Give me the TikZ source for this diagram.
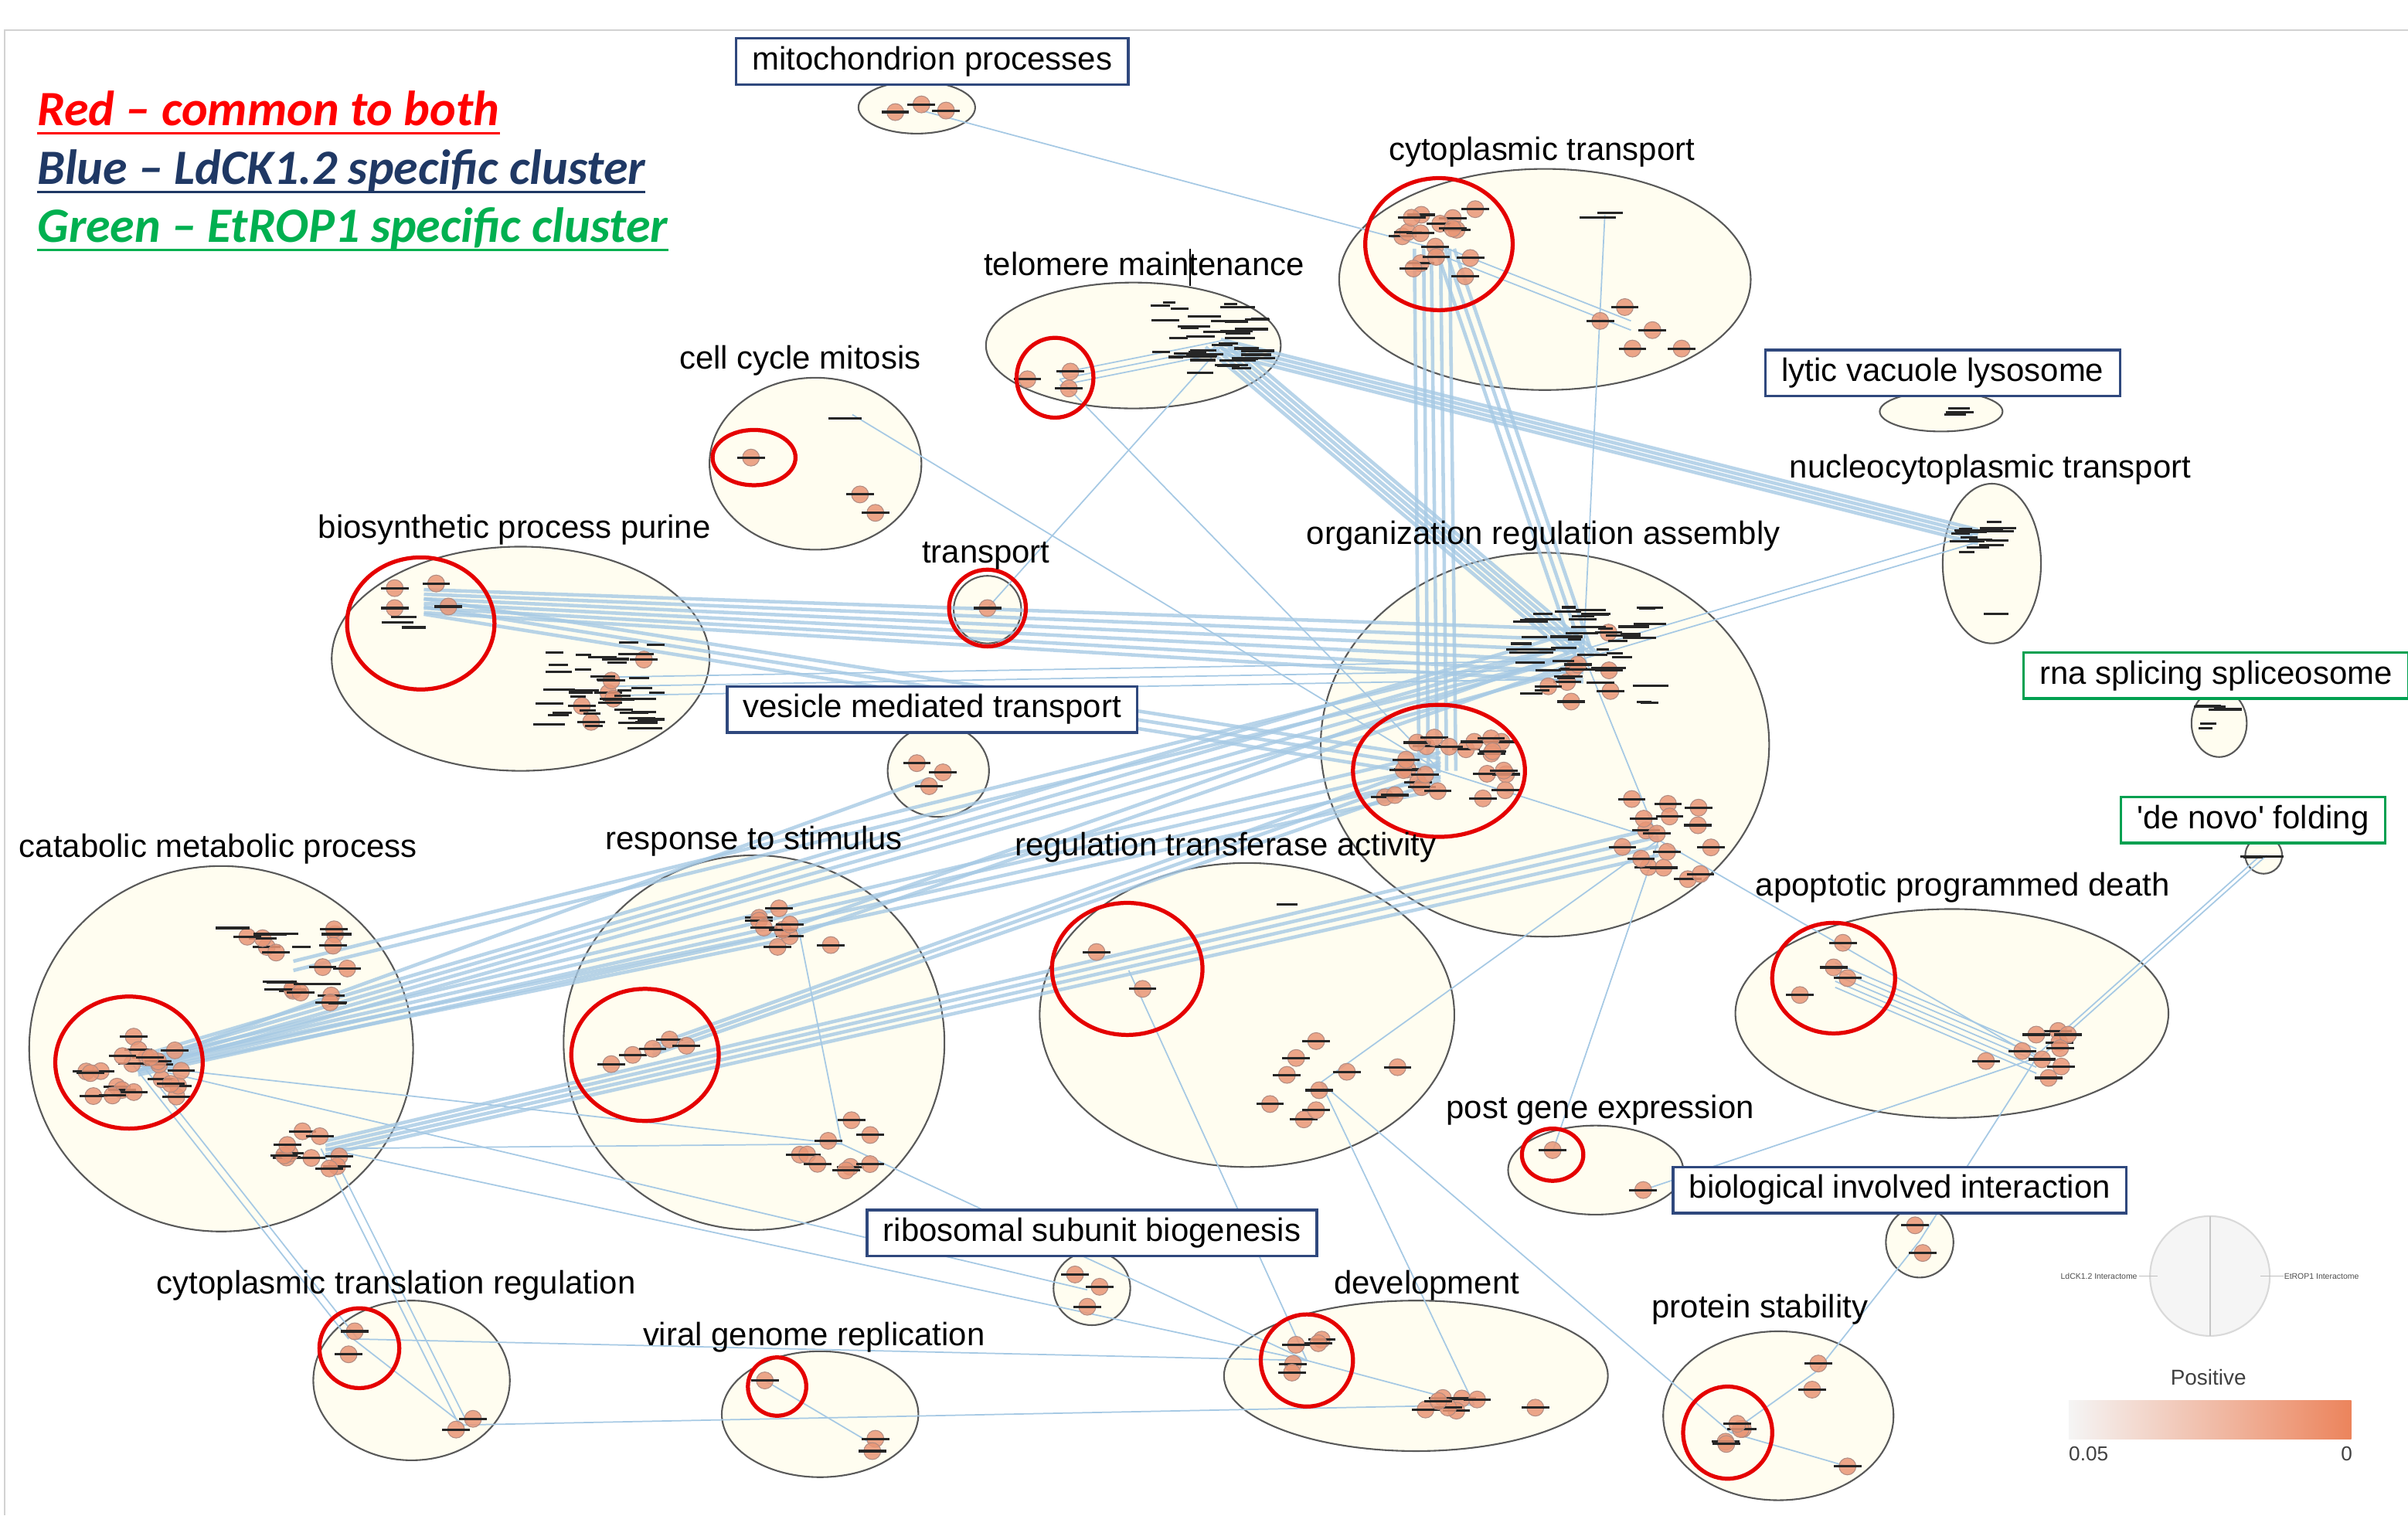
\documentclass[tikz,border=0pt]{standalone}
\usepackage{fontspec}
\setmainfont{Liberation Sans}
\newfontfamily\legendfont{Carlito}

\definecolor{edgeblue}{RGB}{166,201,228}
\definecolor{clusterfill}{RGB}{255,253,240}
\definecolor{genefill}{RGB}{233,150,118}
\definecolor{geneline}{RGB}{178,140,130}
\definecolor{tagblue}{RGB}{47,72,125}
\definecolor{taggreen}{RGB}{0,160,80}
\definecolor{lgred}{RGB}{255,0,0}
\definecolor{lgblue}{RGB}{31,56,100}
\definecolor{lggreen}{RGB}{0,176,80}
\definecolor{barhot}{RGB}{236,132,92}

% one gene node with its (unreadable) name
\newcommand\onegene[2]{%
  \filldraw[gene] (#1,#2) circle[radius=5.5];
  \draw[genetext] (#1-9,#2) -- (#1+9,#2);}
% scatter of gene nodes round a centre
\newcommand\genecloud[6]{%
  \pgfmathsetseed{#6}%
  \foreach \k in {1,...,#5}{%
    \pgfmathsetmacro\gx{#1+#3*rand}%
    \pgfmathsetmacro\gy{#2+#4*rand}%
    \filldraw[gene] (\gx,\gy) circle[radius=5.5];
    \draw[genetext] (\gx-9,\gy) -- (\gx+9,\gy);
  }}
% scatter of names only
\newcommand\namecloud[6]{%
  \pgfmathsetseed{#6}%
  \foreach \k in {1,...,#5}{%
    \pgfmathsetmacro\gx{#1+#3*rand}%
    \pgfmathsetmacro\gy{#2+#4*rand}%
    \pgfmathsetmacro\gw{4+8*rnd}%
    \draw[genetext] (\gx-\gw,\gy) -- (\gx+\gw,\gy);
  }}

\begin{document}
\begin{tikzpicture}[x=0.02cm, y=-0.02cm,
  cluster/.style={draw=black!65, fill=clusterfill, line width=0.6pt},
  common/.style={draw=red!90!black, line width=1.5pt},
  edge/.style={draw=edgeblue, line width=0.5pt},
  bundle/.style={draw=edgeblue, line width=1.3pt, opacity=0.8},
  gene/.style={fill=genefill, draw=geneline, line width=0.3pt, fill opacity=0.85},
  genetext/.style={draw=black!85, line width=0.9pt},
  term/.style={font=\fontsize{12}{14}\selectfont, text=black, inner sep=1pt},
  tag/.style={term, draw=tagblue, line width=1pt, fill=white, inner xsep=6pt, minimum height=0.6cm},
  etag/.style={tag, draw=taggreen},
  legend/.style={font=\legendfont\bfseries\itshape\fontsize{18.3}{21}\selectfont, anchor=base west, inner sep=0pt}]

\useasboundingbox (0,0) rectangle (1568,987);
\draw[gray!35, line width=0.6pt] (3,987) -- (3,19.5) -- (1568,19.5);

% legend
\node[legend, text=lgred] (lgRed) at (24,82) {Red – common to both};
\node[legend, text=lgblue] (lgBlue) at (24,120) {Blue – LdCK1.2 specific cluster};
\node[legend, text=lggreen] (lgGreen) at (24,158) {Green – EtROP1 specific cluster};
\draw[lgred, line width=0.95pt] ([yshift=-2.8pt]lgRed.base west) -- ([yshift=-2.8pt]lgRed.base east);
\draw[lgblue, line width=0.95pt] ([yshift=-2.8pt]lgBlue.base west) -- ([yshift=-2.8pt]lgBlue.base east);
\draw[lggreen, line width=0.95pt] ([yshift=-2.8pt]lgGreen.base west) -- ([yshift=-2.8pt]lgGreen.base east);

% clusters
\draw[cluster] (597,70) ellipse [x radius=38, y radius=17];
\draw[cluster] (1006,182) ellipse [x radius=134, y radius=72];
\draw[cluster] (738,225) ellipse [x radius=96, y radius=41];
\draw[cluster] (531,302) ellipse [x radius=69, y radius=56];
\draw[cluster] (1264,268) ellipse [x radius=40, y radius=13];
\draw[cluster] (1297,367) ellipse [x radius=32, y radius=52];
\draw[cluster] (339,429) ellipse [x radius=123, y radius=73];
\draw[cluster] (643,397) ellipse [x radius=22, y radius=22];
\draw[cluster] (1006,485) ellipse [x radius=146, y radius=125];
\draw[cluster] (611,502) ellipse [x radius=33, y radius=30];
\draw[cluster] (1445,471) ellipse [x radius=18, y radius=22];
\draw[cluster] (1474,557) ellipse [x radius=12, y radius=12];
\draw[cluster] (144,683) ellipse [x radius=125, y radius=119];
\draw[cluster] (491,679) ellipse [x radius=124, y radius=122];
\draw[cluster] (812,661) ellipse [x radius=135, y radius=99];
\draw[cluster] (1271,660) ellipse [x radius=141, y radius=68];
\draw[cluster] (1039,762) ellipse [x radius=57, y radius=29];
\draw[cluster] (1250,809) ellipse [x radius=22, y radius=23];
\draw[cluster] (711,839) ellipse [x radius=25, y radius=24];
\draw[cluster] (268,899) ellipse [x radius=64, y radius=52];
\draw[cluster] (534,921) ellipse [x radius=64, y radius=41];
\draw[cluster] (922,896) ellipse [x radius=125, y radius=49];
\draw[cluster] (1158,922) ellipse [x radius=75, y radius=55];

% hubs
\coordinate (mitoH) at (600,72);
\coordinate (ctR) at (935,162);
\coordinate (ctA) at (1045,140);
\coordinate (ctB) at (1062,212);
\coordinate (telR) at (690,247);
\coordinate (telT) at (795,226);
\coordinate (ccmA) at (555,270);
\coordinate (nucH) at (1288,350);
\coordinate (bioR) at (276,392);
\coordinate (bioL) at (395,447);
\coordinate (trnH) at (643,396);
\coordinate (orgU) at (1031,426);
\coordinate (orgR) at (938,502);
\coordinate (orgL) at (1080,547);
\coordinate (vmtH) at (605,507);
\coordinate (dnfH) at (1474,557);
\coordinate (catR) at (90,694);
\coordinate (catU) at (191,629);
\coordinate (catL) at (212,748);
\coordinate (rsR) at (425,684);
\coordinate (rsU) at (520,605);
\coordinate (rsL) at (548,745);
\coordinate (rtR) at (735,632);
\coordinate (rtL) at (860,705);
\coordinate (apoR) at (1195,635);
\coordinate (apoL) at (1326,689);
\coordinate (pgeR) at (1011,750);
\coordinate (pgeA) at (1070,775);
\coordinate (bioH) at (1250,808);
\coordinate (rsbH) at (708,840);
\coordinate (ctrR) at (230,872);
\coordinate (ctrL) at (302,928);
\coordinate (vgrR) at (498,899);
\coordinate (vgrL) at (569,941);
\coordinate (devR) at (851,886);
\coordinate (devL) at (960,915);
\coordinate (psR) at (1127,933);
\coordinate (psA) at (1183,893);
\coordinate (psB) at (1203,955);

% bundles
\foreach \a/\b in {-8/-16,-5/-9,-2/-2,1/5,4/12,7/18}
  \draw[bundle] ([shift={(0,\a)}]bioR) -- ([shift={(0,\b)}]orgU);
\foreach \a/\b in {-2/-8,3/-2,8/4}
  \draw[bundle] ([shift={(0,\a)}]bioR) -- ([shift={(0,\b)}]orgR);
\foreach \a/\b in {-6/4,0/10,6/16}
  \draw[edge] ([shift={(0,\a)}]bioL) -- ([shift={(0,\b)}]orgU);
\foreach \a/\b in {-6/-16,-3/-8,0/0,3/8}
  \draw[bundle] ([shift={(0,\a)}]catR) -- ([shift={(0,\b)}]orgU);
\foreach \a/\b in {-3/-12,0/-4,3/4,6/12}
  \draw[bundle] ([shift={(0,\a)}]catR) -- ([shift={(0,\b)}]orgR);
\foreach \a/\b in {0/0,4/5}
  \draw[bundle] ([shift={(0,\a)}]catR) -- ([shift={(0,\b)}]rsU);
\draw[bundle] (catR) -- (vmtH);
\foreach \a/\b in {-3/-8,3/0}
  \draw[bundle] ([shift={(0,\a)}]catU) -- ([shift={(0,\b)}]orgU);
\foreach \a/\b in {-5/-8,-2/-2,1/4,4/10}
  \draw[bundle] ([shift={(0,\a)}]catL) -- ([shift={(0,\b)}]orgL);
\foreach \a/\b in {-3/-6,0/0,3/6}
  \draw[bundle] ([shift={(0,\a)}]rsR) -- ([shift={(0,\b)}]orgR);
\foreach \a/\b in {-3/-4,3/4}
  \draw[bundle] ([shift={(0,\a)}]rsU) -- ([shift={(0,\b)}]orgU);
\foreach \a/\b in {-10/-10,-5/-5,0/0,5/5,10/10}
  \draw[bundle] ([shift={(\a,0)}]telT) -- ([shift={(\b,0)}]orgU);
\foreach \a/\b in {-5/-5,-2/-2,1/1,4/4}
  \draw[bundle] ([shift={(0,\a)}]telT) -- ([shift={(0,\b)}]nucH);
\foreach \a/\b in {-14/-14,-8/-8,-3/-2,3/4,9/10}
  \draw[bundle] ([shift={(\a,0)}]ctR) -- ([shift={(\b,0)}]orgR);
\foreach \a/\b in {0/-6,6/0,12/6}
  \draw[bundle] ([shift={(\a,0)}]ctR) -- ([shift={(\b,0)}]orgU);

% single links
\draw[edge] (mitoH) -- (ctR);
\draw[edge] (ccmA) -- (orgR);
\draw[edge] (trnH) -- (telT);
\draw[edge] (ctA) -- (orgU);
\foreach \a in {-3,3} \draw[edge] ([shift={(0,\a)}]ctR) -- ([shift={(0,\a)}]ctB);
\foreach \a in {-4,0,4} \draw[edge] ([shift={(0,\a)}]telR) -- ([shift={(0,\a)}]telT);
\draw[edge] (telR) -- (orgR);
\foreach \a in {-3,3} \draw[edge] ([shift={(0,\a)}]orgU) -- ([shift={(0,\a)}]nucH);
\draw[edge] (orgR) -- (orgL);
\draw[edge] (orgU) -- (orgL);
\draw[edge] (orgL) -- (rtL);
\draw[edge] (orgL) -- (pgeR);
\draw[edge] (orgL) -- (apoL);
\draw[edge] (rtR) -- (devR);
\draw[edge] (rtL) -- (psR);
\draw[edge] (rtL) -- (devL);
\draw[edge] (pgeA) -- (apoL);
\foreach \a/\b in {-8/-6,-4/-2,0/2,4/6,8/10}
  \draw[edge] ([shift={(0,\a)}]apoR) -- ([shift={(0,\b)}]apoL);
\foreach \a in {-2,2} \draw[edge] ([shift={(\a,0)}]apoL) -- ([shift={(\a,0)}]dnfH);
\draw[edge] (bioH) -- (apoL);
\draw[edge] (bioH) -- (psA);
\foreach \a in {-3,3} \draw[edge] ([shift={(\a,0)}]catR) -- ([shift={(\a,0)}]ctrR);
\foreach \a in {-3,3} \draw[edge] ([shift={(\a,0)}]catL) -- ([shift={(\a,0)}]ctrL);
\draw[edge] (catR) -- (rsL);
\draw[edge] (catR) -- (rsbH);
\draw[edge] (catL) -- (devR);
\draw[edge] (catL) -- (rsL);
\draw[edge] (ctrR) -- (devR);
\draw[edge] (ctrL) -- (devL);
\draw[edge] (ctrR) -- (ctrL);
\draw[edge] (vgrR) -- (vgrL);
\draw[edge] (rsU) -- (rsL);
\draw[edge] (rsL) -- (devR);
\draw[edge] (devR) -- (devL);
\draw[edge] (psR) -- (psA);
\draw[edge] (psR) -- (psB);

% genes
\onegene{583}{73} \onegene{600}{68} \onegene{616}{72}
\genecloud{935}{158}{28}{22}{16}{2}
\namecloud{1045}{140}{5}{4}{2}{3}
\onegene{1042}{209} \onegene{1058}{200} \onegene{1076}{215} \onegene{1063}{227} \onegene{1095}{227}
\onegene{669}{247} \onegene{697}{242} \onegene{696}{253}
\namecloud{785}{220}{36}{23}{45}{6}
\onegene{489}{298} \onegene{560}{322} \onegene{570}{334}
\namecloud{553}{272}{6}{3}{2}{7}
\namecloud{1264}{268}{16}{3}{4}{8}
\namecloud{1290}{350}{18}{11}{16}{9}
\namecloud{1300}{400}{2}{1}{1}{30}
\onegene{257}{383} \onegene{284}{380} \onegene{257}{396} \onegene{292}{395}
\namecloud{270}{405}{14}{4}{3}{10}
\genecloud{395}{450}{25}{22}{6}{12}
\namecloud{393}{447}{38}{30}{40}{11}
\onegene{643}{396}
\genecloud{1030}{430}{25}{28}{8}{14}
\namecloud{1031}{426}{44}{32}{50}{13}
\genecloud{940}{505}{42}{26}{24}{15}
\genecloud{1080}{547}{40}{30}{16}{16}
\onegene{597}{497} \onegene{605}{512} \onegene{614}{503}
\namecloud{1444}{468}{8}{10}{6}{17}
\namecloud{1474}{556}{9}{3}{3}{18}
\genecloud{88}{696}{32}{22}{22}{19}
\genecloud{191}{629}{38}{24}{14}{20}
\namecloud{191}{629}{40}{26}{12}{21}
\genecloud{212}{748}{28}{15}{10}{22}
\onegene{398}{693} \onegene{412}{687} \onegene{425}{683} \onegene{436}{677} \onegene{447}{681}
\genecloud{520}{605}{26}{14}{9}{23}
\genecloud{548}{745}{30}{18}{9}{24}
\onegene{714}{620} \onegene{744}{644}
\namecloud{837}{590}{2}{1}{1}{31}
\onegene{857}{678} \onegene{844}{689} \onegene{838}{700} \onegene{877}{698} \onegene{859}{710}
\onegene{827}{719} \onegene{849}{729} \onegene{910}{695} \onegene{857}{723}
\onegene{1200}{614} \onegene{1194}{630} \onegene{1203}{637} \onegene{1172}{648}
\genecloud{1326}{689}{35}{18}{10}{25}
\onegene{1011}{749} \onegene{1070}{775}
\onegene{1247}{798} \onegene{1252}{816}
\onegene{700}{830} \onegene{716}{838} \onegene{708}{851}
\onegene{231}{867} \onegene{227}{882} \onegene{308}{924} \onegene{297}{931}
\onegene{498}{899} \onegene{570}{937} \onegene{568}{945}
\genecloud{851}{886}{10}{14}{5}{26}
\genecloud{960}{915}{40}{6}{8}{27}
\genecloud{1128}{933}{14}{8}{5}{28}
\onegene{1184}{888} \onegene{1180}{905} \onegene{1203}{955}

% common to both
\draw[common] (937,159) ellipse [x radius=48, y radius=43];
\draw[common] (687,246) ellipse [x radius=25, y radius=26];
\draw[common] (491,298) ellipse [x radius=27, y radius=18];
\draw[common] (274,406) ellipse [x radius=48, y radius=43];
\draw[common] (643,396) ellipse [x radius=25, y radius=25];
\draw[common] (937,502) ellipse [x radius=56, y radius=43];
\draw[common] (84,692) ellipse [x radius=48, y radius=43];
\draw[common] (420,687) ellipse [x radius=48, y radius=43];
\draw[common] (734,631) ellipse [x radius=49, y radius=43];
\draw[common] (1194,637) ellipse [x radius=40, y radius=36];
\draw[common] (1011,752) ellipse [x radius=20, y radius=17];
\draw[common] (234,878) ellipse [x radius=26, y radius=26];
\draw[common] (506,903) ellipse [x radius=19, y radius=19];
\draw[common] (851,886) ellipse [x radius=30, y radius=30];
\draw[common] (1125,933) ellipse [x radius=29, y radius=30];

% cluster names
\node[tag] (tMito) at (607,40) {mitochondrion processes};
\node[term] (tCyto) at (1004,99) {cytoplasmic transport};
\node[term] (tTelo) at (745,172) {telomere maintenance};
\draw[black, line width=0.6pt] (775,162) -- (775,186);
\node[term] (tCcm) at (521,235) {cell cycle mitosis};
\node[tag] (tLys) at (1265,243) {lytic vacuole lysosome};
\node[term] (tNuc) at (1296,306) {nucleocytoplasmic transport};
\node[term] (tBio) at (335,345) {biosynthetic process purine};
\node[term] (tTrn) at (642,362) {transport};
\node[term] (tOrg) at (1005,349) {organization regulation assembly};
\node[tag] (tVmt) at (607,462) {vesicle mediated transport};
\node[etag] (tRna) at (1443,440) {rna splicing spliceosome};
\node[etag] (tDnf) at (1467,534) {\textquotesingle de novo\textquotesingle\ folding};
\node[term] (tCat) at (142,553) {catabolic metabolic process};
\node[term] (tRs) at (491,548) {response to stimulus};
\node[term] (tRt) at (798,552) {regulation transferase activity};
\node[term] (tApo) at (1278,578) {apoptotic programmed death};
\node[term] (tPge) at (1042,723) {post gene expression};
\node[tag] (tBioi) at (1237,775) {biological involved interaction};
\node[tag] (tRsb) at (711,803) {ribosomal subunit biogenesis};
\node[term] (tCtr) at (258,837) {cytoplasmic translation regulation};
\node[term] (tVgr) at (530,871) {viral genome replication};
\node[term] (tDev) at (929,837) {development};
\node[term] (tPs) at (1146,853) {protein stability};

% pie and colour key
\filldraw[fill=gray!8, draw=gray!30, line width=0.6pt] (1439,831) circle[radius=39];
\draw[gray!45, line width=0.5pt] (1439,792) -- (1439,870);
\draw[gray!50, line width=0.3pt] (1393,831) -- (1405,831);
\draw[gray!50, line width=0.3pt] (1472,831) -- (1487,831);
\node[font=\fontsize{3}{3.5}\selectfont, text=black!70, anchor=east, inner sep=0pt] (pieL) at (1392,831) {LdCK1.2 Interactome};
\node[font=\fontsize{3}{3.5}\selectfont, text=black!70, anchor=west, inner sep=0pt] (pieR) at (1487,831) {EtROP1 Interactome};
\node[font=\fontsize{8}{9}\selectfont, text=black!75] (kPos) at (1438,897) {Positive};
\shade[left color=gray!8, middle color={rgb,255:red,245;green,196;blue,180}, right color=barhot] (1347,912) rectangle (1531,937);
\node[font=\fontsize{7.5}{9}\selectfont, text=black!75] (kLow) at (1360,947) {0.05};
\node[font=\fontsize{7.5}{9}\selectfont, text=black!75] (kHigh) at (1528,947) {0};

\end{tikzpicture}
\end{document}
